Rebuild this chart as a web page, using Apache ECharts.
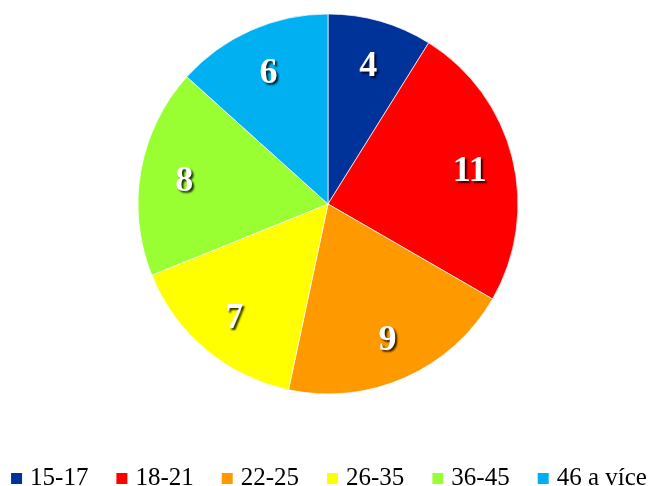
<!DOCTYPE html>
<html>
<head>
<meta charset="utf-8">
<script src="https://cdn.jsdelivr.net/npm/echarts@6/dist/echarts.min.js"></script>
<style>
    html, body { margin: 0; padding: 0; background: #fff; }
    #chart { width: 656px; height: 486px; }
</style>
</head>
<body>
<div id="chart"></div>
<script>
// age groups and counts
const categories = ['15-17', '18-21', '22-25', '26-35', '36-45', '46 a více'];
const counts = [4, 11, 9, 7, 8, 6];
const colors = ['#003399', '#FF0000', '#FF9900', '#FFFF00', '#99FF33', '#00B0F0'];

const serif = "'Liberation Serif', 'Times New Roman', serif";

const pieData = categories.map((name, i) => ({
    name: name,
    value: counts[i],
    itemStyle: { color: colors[i] }
}));

const chart = echarts.init(document.getElementById('chart'));

chart.setOption({
    animation: false,
    legend: {
        data: categories,
        left: 'center',
        top: 461,
        icon: 'rect',
        itemWidth: 13,
        itemHeight: 13,
        itemGap: 26,
        textStyle: {
            fontFamily: serif,
            fontSize: 25,
            lineHeight: 25,
            color: '#000',
            padding: [0, 0, 0, 2]
        }
    },
    series: [
        {
            type: 'pie',
            center: [328, 204],
            radius: [0, 190],
            startAngle: 90,
            clockwise: true,
            label: { show: false },
            labelLine: { show: false },
            itemStyle: { borderColor: '#fff', borderWidth: 0.7 },
            emphasis: { disabled: true },
            data: pieData
        },
        {
            // transparent ring, only used to place the value labels further out
            type: 'pie',
            center: [328, 204],
            radius: [96, 190],
            startAngle: 90,
            clockwise: true,
            silent: true,
            itemStyle: { color: 'rgba(0,0,0,0)' },
            label: {
                show: true,
                position: 'inside',
                formatter: '{c}',
                offset: [0, 3],
                fontFamily: serif,
                fontWeight: 'bold',
                fontSize: 36,
                color: '#fff',
                textShadowColor: 'rgba(0,0,0,0.8)',
                textShadowBlur: 2,
                textShadowOffsetX: 2,
                textShadowOffsetY: 2
            },
            labelLine: { show: false },
            emphasis: { disabled: true },
            data: categories.map((name, i) => ({ name: name, value: counts[i] }))
        }
    ]
});
</script>
</body>
</html>
